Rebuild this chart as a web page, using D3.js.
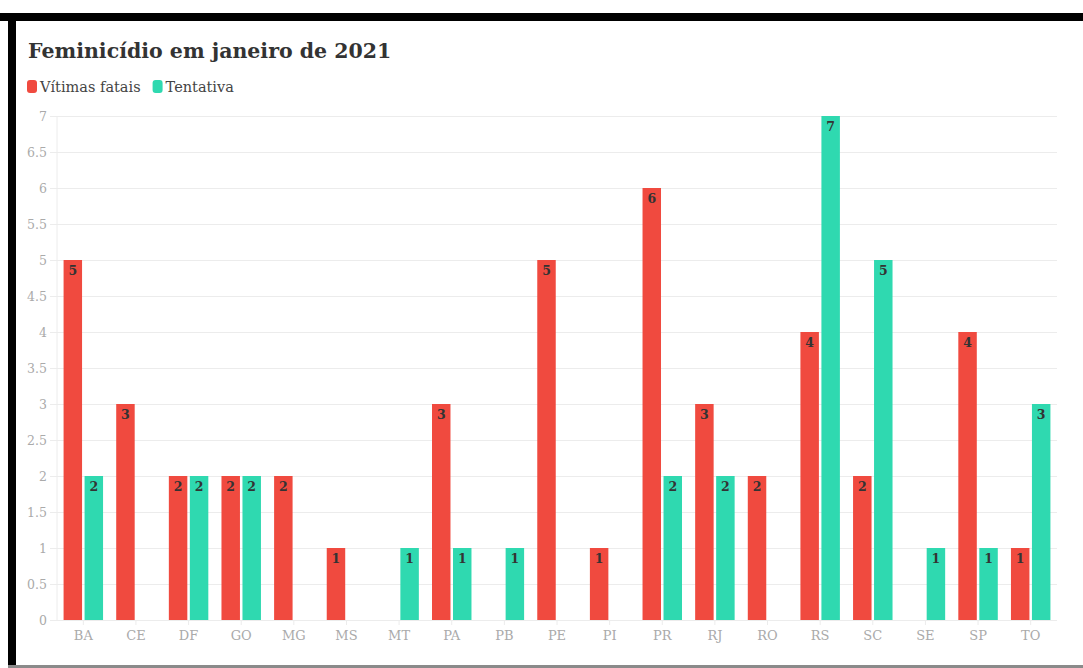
<!DOCTYPE html>
<html>
<head>
<meta charset="utf-8">
<script src="https://cdn.jsdelivr.net/npm/d3@7"></script>
<style>
  body { margin: 0; background: #fff; }
  svg { display: block; }
</style>
</head>
<body>
<div id="chart"></div>
<script>
// data
let states = ["BA","CE","DF","GO","MG","MS","MT","PA","PB","PE","PI","PR","RJ","RO","RS","SC","SE","SP","TO"];
let vitimasFatais = [5,3,2,2,2,1,0,3,0,5,1,6,3,2,4,2,0,4,1];
let tentativa = [2,0,2,2,0,0,1,1,1,0,0,2,2,0,7,5,1,1,3];
let seriesNames = ["Vítimas fatais", "Tentativa"];
let seriesColors = ["#f04a3f", "#2fd9b0"];
let yTicks = [0,0.5,1,1.5,2,2.5,3,3.5,4,4.5,5,5.5,6,6.5,7];

let svgWidth = 1083;
let svgHeight = 668;
let margin = { top: 116, right: 26, bottom: 48, left: 57 };
let bodyWidth = svgWidth - margin.left - margin.right;
let bodyHeight = svgHeight - margin.top - margin.bottom;
let font = "'DejaVu Serif', serif";

let svg = d3.select("#chart").append("svg")
            .attr("width", svgWidth)
            .attr("height", svgHeight);

// frame
svg.append("rect").attr("x", 0).attr("y", 13).attr("width", svgWidth).attr("height", 8).attr("fill", "#000");
svg.append("rect").attr("x", 8).attr("y", 13).attr("width", 8).attr("height", svgHeight - 13).attr("fill", "#000");
svg.append("rect").attr("x", 8).attr("y", 665).attr("width", svgWidth - 8).attr("height", 3).attr("fill", "#8a8a8a");

// title
svg.append("text")
   .attr("x", 28).attr("y", 58)
   .attr("font-family", font).attr("font-weight", "bold")
   .attr("font-size", "20.5px").attr("fill", "#333")
   .text("Feminicídio em janeiro de 2021");

// legend
let legend = svg.append("g").attr("transform", "translate(27,80)");
let lx = 0;
seriesNames.forEach(function(name, i) {
    let g = legend.append("g").attr("transform", `translate(${lx},0)`);
    g.append("rect").attr("width", 10).attr("height", 13).attr("rx", 3)
     .attr("fill", seriesColors[i]);
    let t = g.append("text").attr("x", 13).attr("y", 11.5)
     .attr("font-family", font).attr("font-size", "14.5px").attr("fill", "#444")
     .text(name);
    lx += 13 + t.node().getComputedTextLength() + 12;
});

let chartGroup = svg.append("g")
                    .attr("transform", `translate(${margin.left},${margin.top})`);

// scales
let x0 = d3.scaleBand().domain(states).range([0, bodyWidth]).paddingInner(0.25).paddingOuter(0.125);
let x1 = d3.scaleBand().domain(seriesNames).range([0, x0.bandwidth()]).paddingInner(0.12);
let yScale = d3.scaleLinear().domain([0, 7]).range([bodyHeight, 0]);

// y axis with gridlines
let leftAxis = d3.axisLeft(yScale).tickValues(yTicks).tickSize(-(bodyWidth + 7)).tickSizeOuter(0).tickPadding(3)
                 .tickFormat(d => d);
let yg = chartGroup.append("g").call(leftAxis);
yg.select(".domain").remove();
yg.selectAll(".tick line").attr("x1", -7).attr("x2", bodyWidth).attr("stroke", "#ececec");
yg.selectAll(".tick text").attr("x", -10).attr("font-family", font).attr("font-size", "12.5px").attr("fill", "#aaa");

// left vertical line
chartGroup.append("line").attr("x1", 0).attr("x2", 0).attr("y1", 0).attr("y2", bodyHeight)
          .attr("stroke", "#ececec");

// x axis
let bottomAxis = d3.axisBottom(x0).tickSize(5).tickSizeOuter(0).tickPadding(6);
let xg = chartGroup.append("g").attr("transform", `translate(0,${bodyHeight})`).call(bottomAxis);
xg.select(".domain").remove();
xg.selectAll(".tick line").attr("stroke", "#ececec");
xg.selectAll(".tick text").attr("font-family", font).attr("font-size", "13px").attr("fill", "#aaa");

// bars
let rows = states.map(function(s, i) {
    return { state: s, values: [vitimasFatais[i], tentativa[i]] };
});

let groups = chartGroup.append("g").selectAll("g")
    .data(rows).enter().append("g")
    .attr("transform", d => `translate(${x0(d.state)},0)`);

let cells = groups.selectAll("g")
    .data(d => d.values.map((v, i) => ({ name: seriesNames[i], value: v, i: i })))
    .enter().filter(d => d.value > 0).append("g");

cells.append("rect")
     .attr("x", d => x1(d.name))
     .attr("y", d => yScale(d.value))
     .attr("width", x1.bandwidth())
     .attr("height", d => bodyHeight - yScale(d.value))
     .attr("fill", (d) => seriesColors[d.i]);

cells.append("text")
     .attr("x", d => x1(d.name) + x1.bandwidth() / 2)
     .attr("y", d => yScale(d.value) + 15)
     .attr("text-anchor", "middle")
     .attr("font-family", font).attr("font-weight", "bold").attr("font-size", "12.5px")
     .attr("fill", "#333")
     .text(d => d.value);
</script>
</body>
</html>
